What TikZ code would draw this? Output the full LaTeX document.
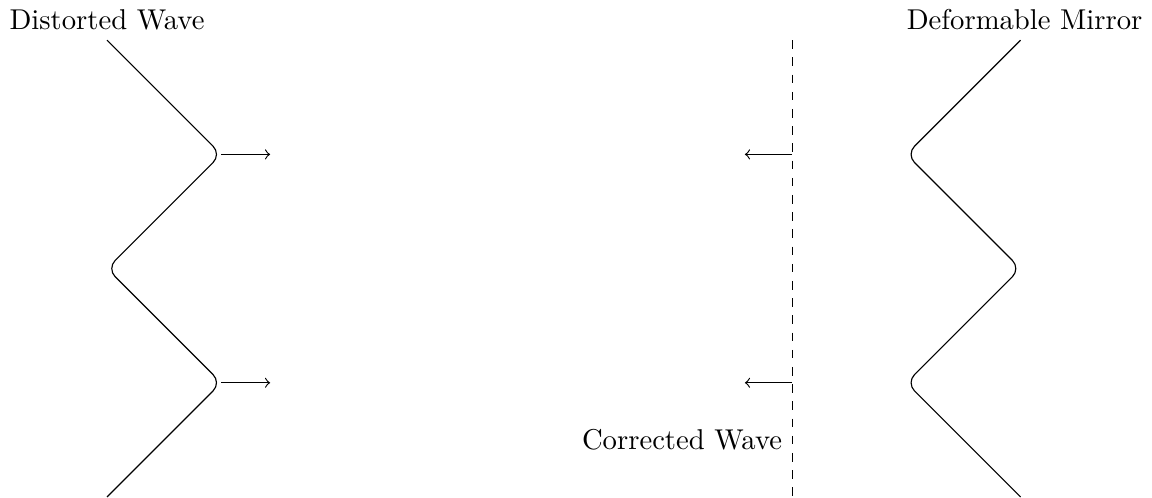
\documentclass[tikz,border=0pt]{standalone}
\usepackage{tikz}
\usetikzlibrary{positioning}

\begin{document}
\begin{tikzpicture}[
        scale=1.0,
        wave/.style={draw, rounded corners=4pt},
        ray/.style={draw, ->},
        front/.style={draw, dashed},
    ]

    % === DISTORTED WAVE ===
    \coordinate (dw0) at (1.3, 5.6);
    \coordinate (dw1) at (2.7, 4.2);
    \coordinate (dw2) at (1.3, 2.8);
    \coordinate (dw3) at (2.7, 1.4);
    \coordinate (dw4) at (1.3, 0);
    \node[above=0pt of dw0] (dwlabel) {Distorted Wave};

    \draw[wave] (dw0) -- (dw1) -- (dw2) -- (dw3) -- (dw4);

    \coordinate (dwb1) at (3.3, 4.2);
    \coordinate (dwb2) at (3.3, 1.4);
    \draw[ray] (dw1) -- (dwb1);
    \draw[ray] (dw3) -- (dwb2);

    % === CORRECTED WAVE ===
    \coordinate (cw0) at (9.7, 5.6);
    \coordinate (cw1) at (9.7, 0);
    \draw[front] (cw0) -- (cw1);

    \coordinate (cwa1) at (9.7, 4.2);
    \coordinate (cwb1) at (9.12, 4.2);
    \coordinate (cwa2) at (9.7, 1.4);
    \coordinate (cwb2) at (9.12, 1.4);
    \draw[ray] (cwa1) -- (cwb1);
    \draw[ray] (cwa2) -- (cwb2);

    \coordinate (cwl) at (9.7, 0.7);
    \node[left=0pt of cwl] (cwlabel) {Corrected Wave};

    % === DEFORMABLE MIRROR ===
    \coordinate (dm0) at (12.5, 5.6);
    \coordinate (dm1) at (11.1, 4.2);
    \coordinate (dm2) at (12.5, 2.8);
    \coordinate (dm3) at (11.1, 1.4);
    \coordinate (dm4) at (12.5, 0);
    \node[above=0pt of dm0, xshift=0.05cm] (dmlabel) {Deformable Mirror};

    \draw[wave] (dm0) -- (dm1) -- (dm2) -- (dm3) -- (dm4);

\end{tikzpicture}
\end{document}
